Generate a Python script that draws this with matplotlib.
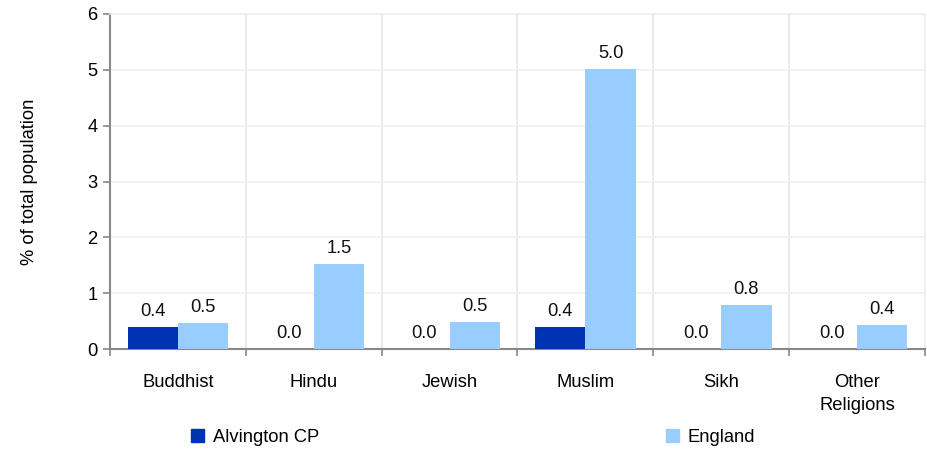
import matplotlib
matplotlib.use("Agg")
import matplotlib.pyplot as plt
import numpy as np
from matplotlib.patches import Patch

plt.rcParams['font.family'] = ['Liberation Sans', 'DejaVu Sans']

categories = ["Buddhist", "Hindu", "Jewish", "Muslim", "Sikh", "Other\nReligions"]
alvington = [0.40, 0.0, 0.0, 0.40, 0.0, 0.0]
england = [0.46, 1.53, 0.49, 5.02, 0.79, 0.43]
series_names = ["Alvington CP", "England"]
colors = ["#0033B4", "#99CCFF"]

fig = plt.figure(figsize=(9.28, 4.5), dpi=100)
ax = fig.add_axes([110/928, 1-349/450, (925-110)/928, (349-14)/450])

x = np.arange(len(categories))
w = 0.37
b1 = ax.bar(x - w/2, alvington, w, color=colors[0], zorder=3)
b2 = ax.bar(x + w/2, england, w, color=colors[1], zorder=3)

fs = 13.2
for bars, vals in ((b1, alvington), (b2, england)):
    for r, v in zip(bars, vals):
        ax.annotate(f"{v:.1f}", (r.get_x() + r.get_width()/2, v),
                    xytext=(0, 5), textcoords="offset points",
                    ha="center", va="bottom", fontsize=fs, color="#111111")

ax.set_xlim(-0.5, len(categories) - 0.5)
ax.set_ylim(0, 6)
ax.set_yticks(range(0, 7))
ax.tick_params(axis='y', labelsize=fs, length=5, color="#888888", direction='out', width=1.2, pad=4)
ax.set_xticks(np.arange(-0.5, len(categories), 1.0))
ax.set_xticklabels([])
ax.tick_params(axis='x', length=5, color="#888888", direction='out', width=1.2)
ax.set_xticks(x, minor=True)
ax.set_xticklabels(categories, minor=True, fontsize=fs, va='top', linespacing=1.45)
ax.tick_params(axis='x', which='minor', length=0, pad=18)

ax.grid(axis='x', which='major', color="#E6E6E6", lw=1.2, zorder=0)
ax.grid(axis='y', color="#F0F0F0", lw=1.2, zorder=0)
for s in ("left", "bottom"):
    ax.spines[s].set_color("#888888")
    ax.spines[s].set_linewidth(1.5)
for s in ("top", "right"):
    ax.spines[s].set_color("#EEEEEE")
    ax.spines[s].set_linewidth(1.2)

ax.set_ylabel("% of total population", fontsize=fs)
ax.yaxis.set_label_coords(-72/815, 0.5)

anchors = [(191/928, 1-437/450), (666/928, 1-437/450)]
for name, col, anc in zip(series_names, colors, anchors):
    leg = fig.legend([Patch(color=col)], [name], loc='center left', bbox_to_anchor=anc,
                     frameon=False, fontsize=fs, handlelength=0.7, handleheight=0.7,
                     handletextpad=0.5, borderaxespad=0, borderpad=0)

fig.savefig("out.png", dpi=100)
